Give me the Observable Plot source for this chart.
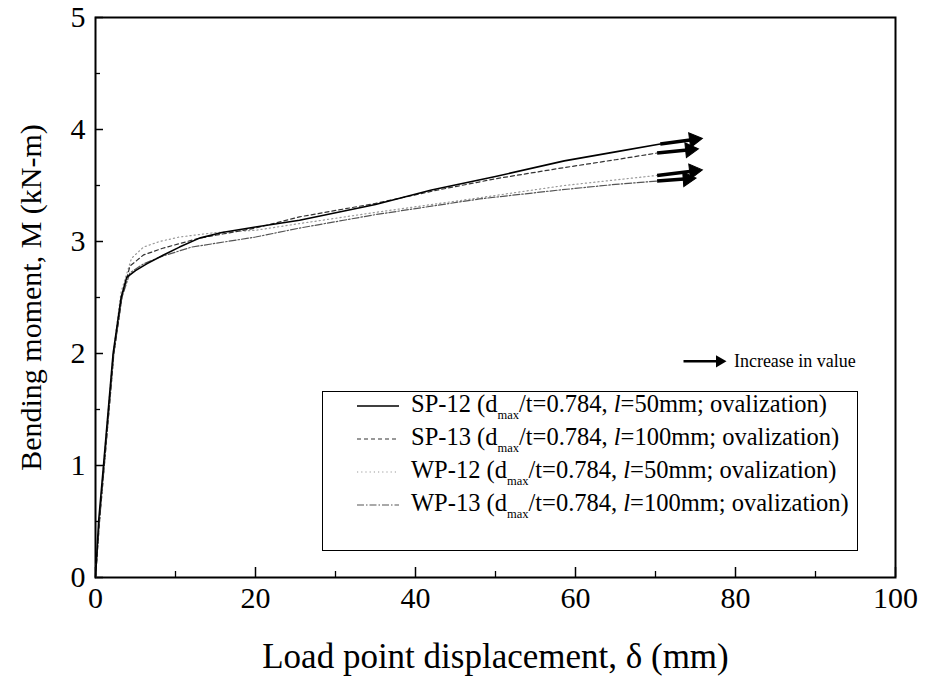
<!DOCTYPE html>
<html>
<head>
<meta charset="utf-8">
<script src="https://cdn.jsdelivr.net/npm/d3@7"></script>
<script src="https://cdn.jsdelivr.net/npm/@observablehq/plot@0.6"></script>
<style>
  html, body { margin: 0; padding: 0; background: #fff; }
  #wrap { position: relative; width: 942px; height: 677px; font-family: "Liberation Serif", "Times New Roman", serif; }
  #legend { position: absolute; left: 322px; top: 391px; width: 536px; height: 160px; border: 1.5px solid #000; background: #fff; box-sizing: border-box; }
  .row { position: absolute; left: 32px; height: 30px; display: flex; align-items: center; font-size: 24.5px; color: #000; white-space: nowrap; }
  .row svg { margin-right: 10px; }
  .row sub { font-size: 12.5px; vertical-align: -7px; }
  .row i { font-style: italic; }
</style>
</head>
<body>
<div id="wrap"></div>
<script>
// ---- data ----
const seriesNames = ["SP-12", "SP-13", "WP-12", "WP-13"];
const legendLabels = [
  "SP-12 (d<sub>max</sub>/t=0.784, <i>l</i>=50mm; ovalization)",
  "SP-13 (d<sub>max</sub>/t=0.784, <i>l</i>=100mm; ovalization)",
  "WP-12 (d<sub>max</sub>/t=0.784, <i>l</i>=50mm; ovalization)",
  "WP-13 (d<sub>max</sub>/t=0.784, <i>l</i>=100mm; ovalization)"
];
const sp12Disp = [0, 0.4, 1.0, 2.2, 3.2, 3.9, 5.0, 6.4, 8.5, 10.5, 13, 15.8, 20, 25.5, 35, 42, 50, 58.6, 65, 70.6];
const sp12M    = [0, 0.51, 1.0, 2.0, 2.5, 2.68, 2.74, 2.80, 2.88, 2.95, 3.03, 3.08, 3.13, 3.19, 3.33, 3.46, 3.58, 3.72, 3.80, 3.87];
const sp13Disp = [0, 0.5, 1.1, 2.3, 3.3, 4.3, 6.0, 8.4, 13, 20, 25.5, 35, 42.8, 50, 58.6, 65, 70.2];
const sp13M    = [0, 0.5, 1.0, 2.0, 2.5, 2.78, 2.88, 2.94, 3.03, 3.12, 3.22, 3.34, 3.46, 3.56, 3.66, 3.73, 3.79];
const wp12Disp = [0, 0.45, 1.0, 2.2, 3.2, 4.5, 6.0, 8.0, 10.5, 15, 20, 25.5, 35, 46, 58.6, 65, 70.2];
const wp12M    = [0, 0.5, 1.0, 2.0, 2.55, 2.85, 2.95, 3.00, 3.04, 3.08, 3.10, 3.16, 3.26, 3.37, 3.50, 3.55, 3.59];
const wp13Disp = [0, 0.5, 1.1, 2.3, 3.3, 4.3, 6.0, 8, 12, 20, 25.5, 35, 48, 58, 65, 70.2];
const wp13M    = [0, 0.5, 1.0, 2.0, 2.5, 2.72, 2.80, 2.86, 2.95, 3.04, 3.12, 3.24, 3.38, 3.46, 3.51, 3.54];
// arrow heads at the end of each curve (start -> tip)
const arrowStartDisp = [70.6, 70.2, 70.2, 70.2];
const arrowStartM    = [3.87, 3.79, 3.59, 3.54];
const arrowTipDisp   = [74.8, 74.3, 74.8, 74.0];
const arrowTipM      = [3.91, 3.82, 3.63, 3.56];
// "Increase in value" note
const noteArrowDisp = [73.5, 78.0];
const noteArrowM    = [1.93, 1.93];
const noteText = "Increase in value";
const noteTextDisp = 79.8;
const xMajorTicks = [0, 20, 40, 60, 80, 100];
const xMinorTicks = [10, 30, 50, 70, 90];
const yMajorTicks = [0, 1, 2, 3, 4, 5];
const yMinorTicks = [0.5, 1.5, 2.5, 3.5, 4.5];
const xLabel = "Load point displacement, δ (mm)";
const yLabel = "Bending moment, M (kN-m)";

// ---- layout ----
const W = 942, H = 677, mL = 95, mR = 47, mT = 17, mB = 100;
const pxPerX = (W - mL - mR) / 100, pxPerY = (H - mT - mB) / 5;

// ---- build tables ----
const toRows = (xs, ys, s) => xs.map((d, i) => ({disp: d, m: ys[i], series: s}));
const sp12 = toRows(sp12Disp, sp12M, "SP-12");
const sp13 = toRows(sp13Disp, sp13M, "SP-13");
const wp12 = toRows(wp12Disp, wp12M, "WP-12");
const wp13 = toRows(wp13Disp, wp13M, "WP-13");
const arrows = seriesNames.map((s, i) => {
  const dx = (arrowTipDisp[i] - arrowStartDisp[i]) * pxPerX;
  const dy = -(arrowTipM[i] - arrowStartM[i]) * pxPerY;
  const ang = Math.atan2(dy, dx) * 180 / Math.PI;
  return {x1: arrowStartDisp[i], y1: arrowStartM[i], x2: arrowTipDisp[i], y2: arrowTipM[i], rot: 90 + ang};
});
const styles = {
  "SP-12": {stroke: "#000", strokeWidth: 1.6, strokeDasharray: null},
  "SP-13": {stroke: "#333", strokeWidth: 1.2, strokeDasharray: "4,3"},
  "WP-12": {stroke: "#999", strokeWidth: 1.2, strokeDasharray: "1.2,3"},
  "WP-13": {stroke: "#555", strokeWidth: 1.2, strokeDasharray: "7,2,1.5,2"}
};
const note = [{x1: noteArrowDisp[0], x2: noteArrowDisp[1], y: noteArrowM[0], tx: noteTextDisp, text: noteText}];

const chart = Plot.plot({
  width: W,
  height: H,
  marginLeft: mL,
  marginRight: mR,
  marginTop: mT,
  marginBottom: mB,
  style: {fontFamily: "'Liberation Serif', 'Times New Roman', serif", fontSize: "30px", color: "#000", background: "#fff"},
  x: {domain: [0, 100]},
  y: {domain: [0, 5]},
  marks: [
    Plot.axisX({ticks: xMajorTicks, tickSize: 0, tickPadding: 9, fontSize: 30, tickFormat: d3.format("d"), label: null}),
    Plot.axisX({ticks: [], tickSize: 0, fontSize: 35, label: xLabel, labelAnchor: "center", labelArrow: "none", labelOffset: 90}),
    Plot.axisX({ticks: xMajorTicks, tickSize: -10, text: null, label: null, strokeWidth: 1.5}),
    Plot.axisX({ticks: xMinorTicks, tickSize: -6, text: null, label: null, strokeWidth: 1.3}),
    Plot.axisY({ticks: yMajorTicks, tickSize: 0, tickPadding: 10, fontSize: 30, tickFormat: d3.format("d"), label: yLabel, labelAnchor: "center", labelArrow: "none", labelOffset: 76}),
    Plot.axisY({ticks: yMajorTicks, tickSize: -8, text: null, label: null, strokeWidth: 1.5}),
    Plot.axisY({ticks: yMinorTicks, tickSize: -5, text: null, label: null, strokeWidth: 1.3}),
    Plot.frame({stroke: "#000", strokeWidth: 2}),
    Plot.line(wp12, {x: "disp", y: "m", ...styles["WP-12"]}),
    Plot.line(wp13, {x: "disp", y: "m", ...styles["WP-13"]}),
    Plot.line(sp13, {x: "disp", y: "m", ...styles["SP-13"]}),
    Plot.line(sp12, {x: "disp", y: "m", ...styles["SP-12"]}),
    Plot.link(arrows, {x1: "x1", y1: "y1", x2: "x2", y2: "y2", stroke: "#000", strokeWidth: 3.5}),
    Plot.dot(arrows, {x: "x2", y: "y2", symbol: "triangle", r: 5.5, fill: "#000", stroke: "#000", strokeWidth: 1, rotate: "rot"}),
    Plot.link(note, {x1: "x1", y1: "y", x2: "x2", y2: "y", stroke: "#000", strokeWidth: 2.5}),
    Plot.dot(note, {x: "x2", y: "y", symbol: "triangle", r: 4.5, fill: "#000", rotate: 90}),
    Plot.text(note, {x: "tx", y: "y", text: "text", textAnchor: "start", fontSize: 18})
  ]
});

const wrap = document.getElementById("wrap");
wrap.appendChild(chart);

// legend box (overlay)
const legend = document.createElement("div");
legend.id = "legend";
const dash = {"SP-12": "", "SP-13": "4,3", "WP-12": "1.2,3", "WP-13": "7,2,1.5,2"};
seriesNames.forEach((s, i) => {
  const row = document.createElement("div");
  row.className = "row";
  row.style.top = (-1 + i * 33) + "px";
  const st = styles[s];
  row.innerHTML = `<svg width="46" height="10"><line x1="2" y1="5" x2="44" y2="5" stroke="${st.stroke}" stroke-width="${st.strokeWidth}" ${dash[s] ? `stroke-dasharray="${dash[s]}"` : ""}/></svg><span>${legendLabels[i]}</span>`;
  legend.appendChild(row);
});
wrap.appendChild(legend);
</script>
</body>
</html>
